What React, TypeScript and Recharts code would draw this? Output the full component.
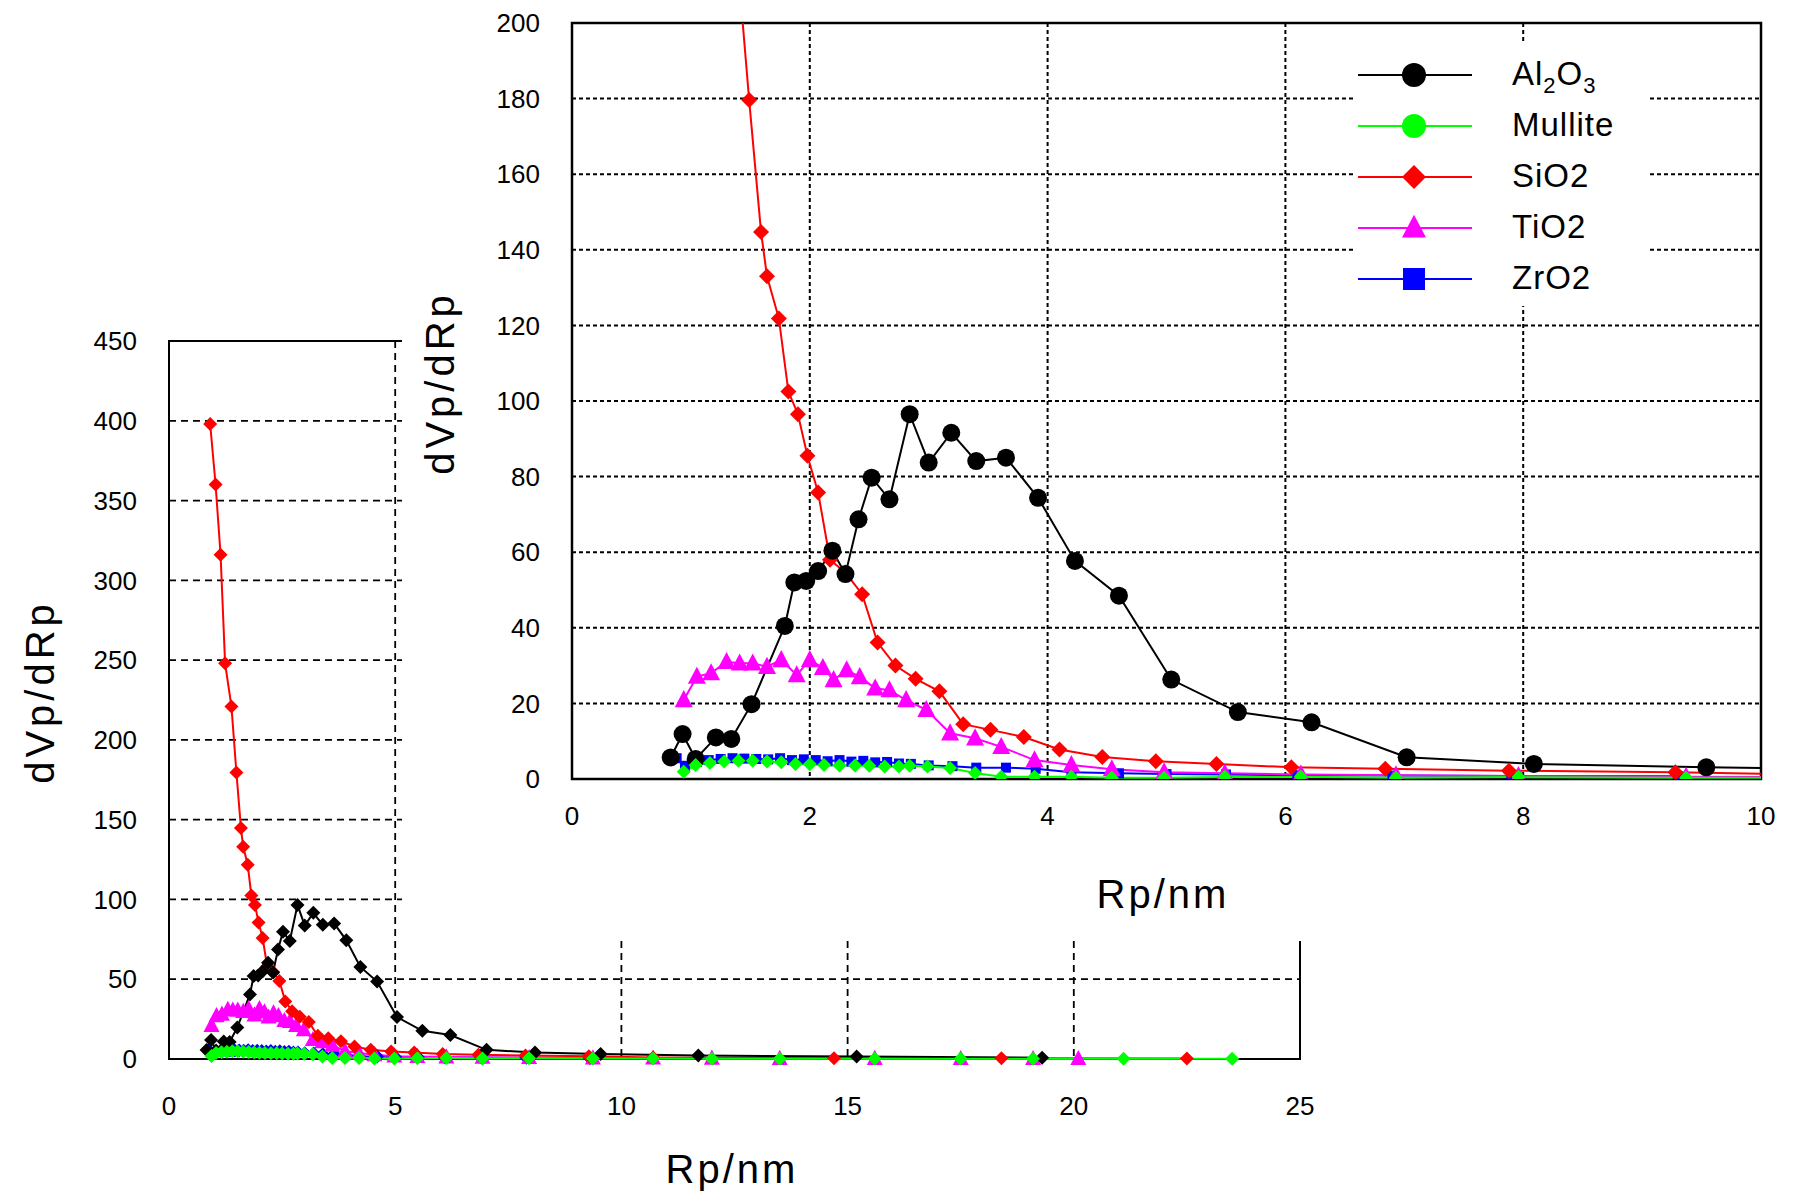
import { LineChart, Line, XAxis, YAxis, CartesianGrid, ReferenceArea } from 'recharts';

// pore size distributions
const al2o3X = [0.83, 0.93, 1.04, 1.21, 1.34, 1.51, 1.79, 1.87, 1.97, 2.07, 2.19, 2.30, 2.41, 2.52, 2.67, 2.84, 3.00, 3.19, 3.40, 3.65, 3.92, 4.23, 4.60, 5.04, 5.6, 6.22, 7.02, 8.09, 9.54, 11.7, 15.2, 19.3];
const al2o3Y = [5.7, 11.9, 5.3, 11.0, 10.6, 19.8, 40.5, 52, 52.4, 55, 60.4, 54.2, 68.7, 79.7, 74, 96.5, 83.7, 91.6, 84.1, 85, 74.4, 57.7, 48.5, 26.3, 17.7, 15.0, 5.75, 4.0, 3.1, 2.2, 1.5, 0.8];

const mulliteX = [0.94, 1.04, 1.16, 1.28, 1.40, 1.52, 1.64, 1.76, 1.88, 2.00, 2.12, 2.25, 2.38, 2.50, 2.63, 2.75, 2.84, 2.99, 3.18, 3.39, 3.61, 3.89, 4.20, 4.54, 4.98, 5.49, 6.13, 6.93, 7.96, 9.37, 10.7, 12.0, 13.5, 15.6, 17.5, 19.1, 21.1, 23.5];
const mulliteY = [1.9, 3.7, 4.2, 4.6, 4.8, 4.8, 4.6, 4.4, 4.0, 3.9, 3.7, 3.6, 3.6, 3.5, 3.3, 3.3, 3.5, 3.3, 2.9, 1.6, 0.6, 0.6, 0.6, 0.3, 0.3, 0.5, 0.6, 0.3, 0.5, 0.3, 0.3, 0.2, 0.2, 0.2, 0.2, 0.2, 0.1, 0.1];

const sio2X = [0.91, 1.03, 1.14, 1.24, 1.38, 1.49, 1.59, 1.64, 1.74, 1.82, 1.90, 1.98, 2.07, 2.17, 2.30, 2.44, 2.57, 2.72, 2.89, 3.09, 3.29, 3.52, 3.80, 4.10, 4.46, 4.91, 5.42, 6.05, 6.84, 7.88, 9.28, 10.7, 14.7, 18.4, 22.5];
const sio2Y = [398, 360, 316, 248, 221, 179.6, 144.7, 133, 121.8, 102.5, 96.5, 85.5, 75.8, 58, 54.6, 48.9, 36.1, 30, 26.5, 23.2, 14.5, 13, 11.1, 7.8, 5.8, 4.7, 4.0, 3.1, 2.7, 2.2, 1.8, 1.0, 0.5, 0.4, 0.3];

const tio2X = [0.94, 1.05, 1.17, 1.30, 1.41, 1.52, 1.64, 1.76, 1.89, 2.00, 2.11, 2.20, 2.31, 2.42, 2.55, 2.67, 2.81, 2.98, 3.18, 3.39, 3.61, 3.89, 4.20, 4.54, 4.98, 5.49, 6.13, 6.93, 7.96, 9.37, 10.7, 12.0, 13.5, 15.6, 17.5, 19.1, 20.1];
const tio2Y = [20.9, 27.1, 28, 31, 30.6, 30.6, 29.7, 31.5, 27.5, 31.5, 29.4, 26.2, 28.8, 27, 24, 23.5, 20.9, 18.3, 12.1, 10.8, 8.5, 5, 3.7, 2.6, 1.8, 1.5, 1.2, 1.0, 0.8, 0.6, 0.5, 0.4, 0.3, 0.3, 0.2, 0.2, 0.2];

const zro2X = [0.88, 0.95, 1.05, 1.15, 1.25, 1.35, 1.45, 1.55, 1.65, 1.75, 1.85, 1.95, 2.05, 2.15, 2.25, 2.35, 2.45, 2.55, 2.65, 2.75, 2.85, 3.0, 3.2, 3.4, 3.65, 3.9, 4.2, 4.6, 5.0, 5.5, 6.1, 6.9, 7.9, 9.3];
const zro2Y = [5.5, 3.5, 4.5, 5.0, 5.3, 5.5, 5.4, 5.3, 5.2, 5.5, 5.0, 5.2, 5.0, 4.7, 5.0, 4.6, 4.8, 4.4, 4.5, 4.1, 4.0, 3.6, 3.4, 3.0, 3.0, 2.7, 1.8, 1.5, 1.3, 1.2, 1.0, 0.9, 0.8, 0.7];

const mainXTicks = [0, 5, 10, 15, 20, 25];
const mainYTicks = [0, 50, 100, 150, 200, 250, 300, 350, 400, 450];
const insetXTicks = [0, 2, 4, 6, 8, 10];
const insetYTicks = [0, 20, 40, 60, 80, 100, 120, 140, 160, 180, 200];

const toPoints = (xs: number[], ys: number[]) => xs.map((x, i) => ({ x, y: ys[i] }));

type Shape = 'circle' | 'diamond' | 'triangle' | 'square';

const series = [
  { key: 'ZrO2', color: '#0000ff', data: toPoints(zro2X, zro2Y), main: 'diamond', inset: 'square', legend: 'square' },
  { key: 'TiO2', color: '#ff00ff', data: toPoints(tio2X, tio2Y), main: 'triangle', inset: 'triangle', legend: 'triangle' },
  { key: 'SiO2', color: '#ff0000', data: toPoints(sio2X, sio2Y), main: 'diamond', inset: 'diamond', legend: 'diamond' },
  { key: 'Al2O3', color: '#000000', data: toPoints(al2o3X, al2o3Y), main: 'diamond', inset: 'circle', legend: 'circle' },
  { key: 'Mullite', color: '#00ff00', data: toPoints(mulliteX, mulliteY), main: 'diamond', inset: 'diamond', legend: 'circle' },
] as const;

const legendOrder = ['Al2O3', 'Mullite', 'SiO2', 'TiO2', 'ZrO2'];

function glyph(shape: Shape, cx: number, cy: number, s: number, color: string, key?: any) {
  if (shape === 'circle') return <circle key={key} cx={cx} cy={cy} r={s} fill={color} />;
  if (shape === 'square') return <rect key={key} x={cx - s} y={cy - s} width={2 * s} height={2 * s} fill={color} />;
  if (shape === 'triangle')
    return <polygon key={key} points={`${cx},${cy - s * 1.1} ${cx + s},${cy + s * 0.8} ${cx - s},${cy + s * 0.8}`} fill={color} />;
  return <polygon key={key} points={`${cx},${cy - s} ${cx + s},${cy} ${cx},${cy + s} ${cx - s},${cy}`} fill={color} />;
}

const marker = (shape: Shape, size: number, color: string) => (p: any) => {
  if (p.cx == null || p.cy == null) return <g key={p.index} />;
  return glyph(shape, p.cx, p.cy, size, color, p.index);
};

const tickFont = { fill: '#000', fontSize: 26, fontFamily: '"Liberation Sans", Arial, sans-serif' };
const titleStyle: React.CSSProperties = {
  position: 'absolute',
  fontFamily: '"Liberation Sans", Arial, sans-serif',
  fontSize: 40,
  color: '#000',
  whiteSpace: 'nowrap',
  lineHeight: 1,
};

function LegendBox() {
  return (
    <div
      style={{
        position: 'absolute',
        left: 1353,
        top: 43,
        background: '#fff',
        width: 297,
        height: 263,
        fontFamily: '"Liberation Sans", Arial, sans-serif',
      }}
    >
      {legendOrder.map((k, i) => {
        const s = series.find((d) => d.key === k)!;
        const top = 32 + i * 51;
        return (
          <div key={k}>
            <svg style={{ position: 'absolute', left: 0, top: top - 16 }} width={130} height={32}>
              <line x1={5} x2={119} y1={16} y2={16} stroke={s.color} strokeWidth={2} />
              {glyph(s.legend as Shape, 61, 16, s.legend === 'square' ? 11 : 12, s.color)}
            </svg>
            <div style={{ position: 'absolute', left: 159, top: top - 18, fontSize: 33, letterSpacing: 1, lineHeight: 1 }}>
              {k === 'Al2O3' ? (
                <span>
                  Al<sub style={{ fontSize: 22 }}>2</sub>O<sub style={{ fontSize: 22 }}>3</sub>
                </span>
              ) : (
                k
              )}
            </div>
          </div>
        );
      })}
    </div>
  );
}

export default function App() {
  return (
    <div style={{ position: 'absolute', left: 0, top: 0, width: 1793, height: 1194, background: '#fff', overflow: 'hidden' }}>
      {/* full range chart */}
      <div style={{ position: 'absolute', left: 0, top: 0 }}>
        <LineChart width={1793} height={1194} margin={{ top: 341, right: 493, bottom: 75, left: 89 }}>
          <CartesianGrid stroke="#000" strokeDasharray="7 5" strokeWidth={1.8} />
          <XAxis
            dataKey="x"
            type="number"
            domain={[0, 25]}
            ticks={mainXTicks}
            height={60}
            axisLine={false}
            tickLine={false}
            tickSize={0}
            tickMargin={38}
            tick={tickFont}
            allowDuplicatedCategory={false}
          />
          <YAxis
            type="number"
            domain={[0, 450]}
            ticks={mainYTicks}
            width={80}
            axisLine={false}
            tickLine={false}
            tickSize={0}
            tickMargin={32}
            tick={tickFont}
          />
          <ReferenceArea x1={0} x2={25} y1={0} y2={450} fill="none" stroke="#000" strokeWidth={2} />
          {series.map((s) => (
            <Line
              key={s.key}
              data={s.data}
              dataKey="y"
              name={s.key}
              stroke={s.color}
              strokeWidth={2}
              dot={marker(s.main as Shape, s.main === 'triangle' ? 8 : 7, s.color)}
              isAnimationActive={false}
            />
          ))}
        </LineChart>
        <div style={{ ...titleStyle, left: 40, top: 692, transform: 'translate(-50%, -50%) rotate(-90deg)', letterSpacing: 4 }}>dVp/dRp</div>
        <div style={{ ...titleStyle, left: 732, top: 1169, transform: 'translate(-50%, -50%)', letterSpacing: 3 }}>Rp/nm</div>
      </div>

      {/* zoomed inset */}
      <div style={{ position: 'absolute', left: 402, top: 0, width: 1391, height: 941, background: '#fff' }}>
        <LineChart width={1391} height={941} margin={{ top: 23, right: 32, bottom: 102, left: 90 }}>
          <CartesianGrid stroke="#000" strokeDasharray="4 3" strokeWidth={2} />
          <XAxis
            dataKey="x"
            type="number"
            domain={[0, 10]}
            ticks={insetXTicks}
            allowDataOverflow
            height={60}
            axisLine={false}
            tickLine={false}
            tickSize={0}
            tickMargin={28}
            tick={tickFont}
            allowDuplicatedCategory={false}
          />
          <YAxis
            type="number"
            domain={[0, 200]}
            ticks={insetYTicks}
            allowDataOverflow
            width={80}
            axisLine={false}
            tickLine={false}
            tickSize={0}
            tickMargin={32}
            tick={tickFont}
          />
          <ReferenceArea x1={0} x2={10} y1={0} y2={200} fill="none" stroke="#000" strokeWidth={2.5} />
          {series.map((s) => (
            <Line
              key={s.key}
              data={s.data}
              dataKey="y"
              name={s.key}
              stroke={s.color}
              strokeWidth={2}
              dot={marker(
                s.inset as Shape,
                s.inset === 'circle' ? 9 : s.inset === 'triangle' ? 9 : s.inset === 'square' ? 5 : s.key === 'SiO2' ? 8 : 7,
                s.color
              )}
              isAnimationActive={false}
            />
          ))}
        </LineChart>
        <div style={{ ...titleStyle, left: 440 - 402, top: 383, transform: 'translate(-50%, -50%) rotate(-90deg)', letterSpacing: 4 }}>dVp/dRp</div>
        <div style={{ ...titleStyle, left: 1163 - 402, top: 894, transform: 'translate(-50%, -50%)', letterSpacing: 3 }}>Rp/nm</div>
      </div>
      <LegendBox />
    </div>
  );
}
